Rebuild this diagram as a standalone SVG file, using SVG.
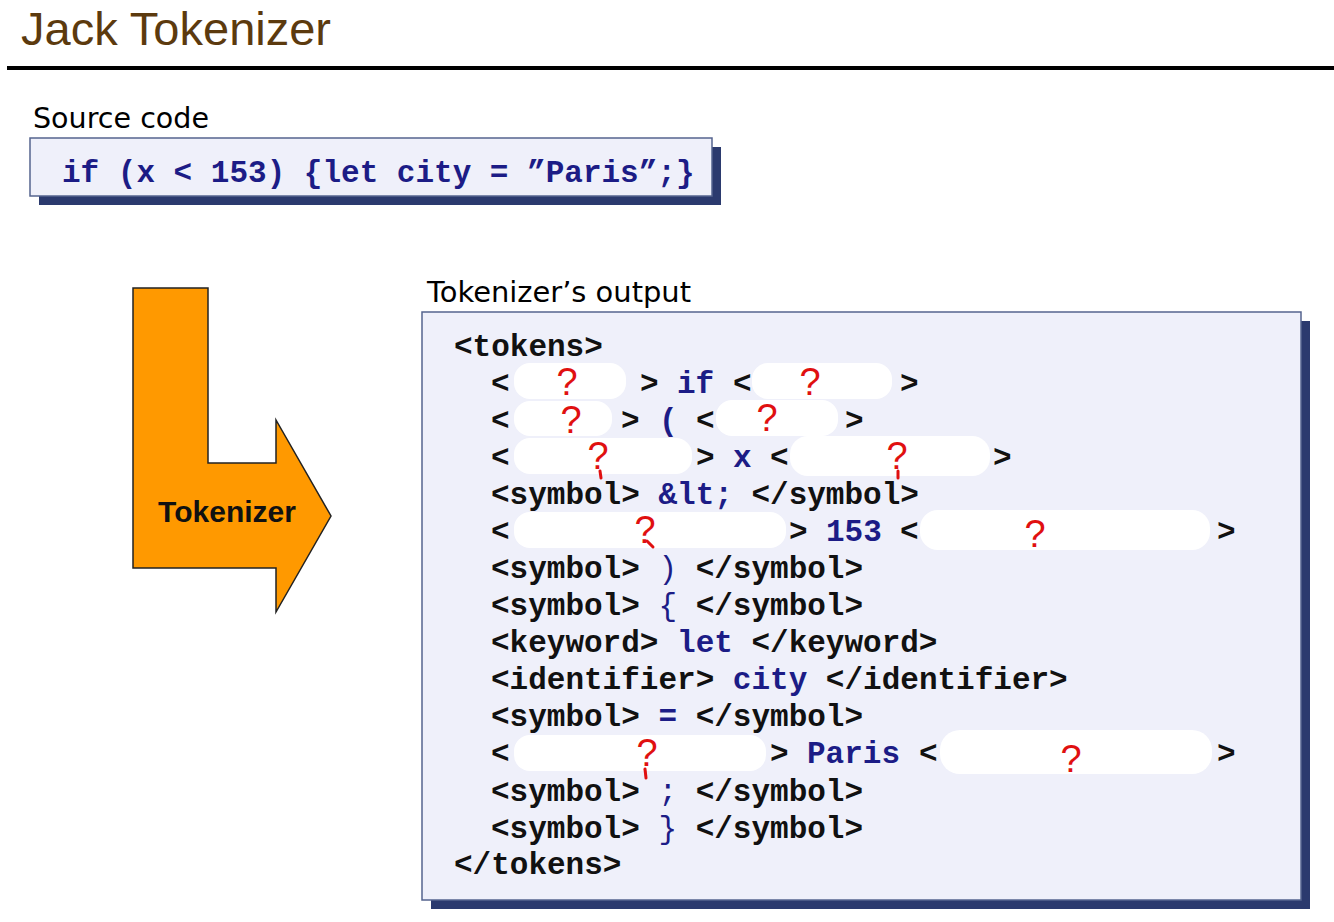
<svg xmlns="http://www.w3.org/2000/svg" width="1334" height="922" viewBox="0 0 1334 922">
<style>
.bg{fill:#ffffff}
.box{fill:#eff0fa;stroke:#55648f;stroke-width:1.5}
.shadow{fill:#2b3a6e}
.label{font-family:"DejaVu Sans","Liberation Sans",sans-serif;font-size:28px;fill:#000}
.code{font-family:"Liberation Mono","Courier New",monospace;font-weight:bold;font-size:31px;fill:#111}
.val{fill:#1c1c86}
.thin{font-weight:normal}
.blob{fill:#ffffff}
.q{font-family:"Liberation Sans","DejaVu Sans",sans-serif;font-size:38px;fill:#e01010}
.tick{stroke:#e01010;stroke-width:3;stroke-linecap:round}
</style>
<rect class="bg" x="0" y="0" width="1334" height="922"/>

<g id="title">
<text x="21" y="45" font-family="Liberation Sans, Arial, sans-serif" font-size="47" fill="#5c3a0e">Jack Tokenizer</text>
<rect x="7" y="66" width="1327" height="4" fill="#000"/>
</g>

<g id="source-label">
<text class="label" x="33" y="128" textLength="176" lengthAdjust="spacingAndGlyphs">Source code</text>
</g>

<g id="source-box">
<rect class="shadow" x="39" y="147" width="682" height="58"/>
<rect class="box" x="30" y="138" width="682" height="58"/>
<text class="code val" x="62" y="182" xml:space="preserve">if (x &lt; 153) {let city = ”Paris”;}</text>
</g>

<g id="tokenizer-arrow">
<path d="M133,288 L208,288 L208,463 L276,463 L276,420 L331,516 L276,612 L276,568 L133,568 Z" fill="#ff9900" stroke="#222" stroke-width="1.5" stroke-linejoin="miter"/>
<text x="227" y="522" text-anchor="middle" font-family="Liberation Sans, Arial, sans-serif" font-weight="bold" font-size="30" fill="#111">Tokenizer</text>
</g>

<g id="output-label">
<text class="label" x="427" y="302" textLength="264" lengthAdjust="spacingAndGlyphs">Tokenizer’s output</text>
</g>

<g id="output-box">
<rect class="shadow" x="431" y="321" width="879" height="588"/>
<rect class="box" x="422" y="312" width="879" height="588"/>

<!-- blobs covering hidden tags -->
<rect class="blob" x="514" y="363" width="112" height="36" rx="16"/>
<rect class="blob" x="752" y="363" width="140" height="36" rx="16"/>
<rect class="blob" x="514" y="401" width="98" height="35" rx="16"/>
<rect class="blob" x="716" y="400" width="122" height="36" rx="16"/>
<rect class="blob" x="514" y="438" width="178" height="36" rx="16"/>
<rect class="blob" x="790" y="436" width="200" height="40" rx="18"/>
<rect class="blob" x="514" y="512" width="272" height="36" rx="16"/>
<rect class="blob" x="920" y="510" width="290" height="40" rx="18"/>
<rect class="blob" x="514" y="735" width="252" height="36" rx="16"/>
<rect class="blob" x="940" y="730" width="272" height="44" rx="20"/>

<g class="code">
<text x="454" y="356">&lt;tokens&gt;</text>

<text x="491" y="393">&lt;</text>
<text x="640" y="393">&gt;</text>
<text class="val" x="677" y="393">if</text>
<text x="733" y="393">&lt;</text>
<text x="900" y="393">&gt;</text>

<text x="491" y="430">&lt;</text>
<text x="621" y="430">&gt;</text>
<text class="val" x="659" y="430">(</text>
<text x="696" y="430">&lt;</text>
<text x="845" y="430">&gt;</text>

<text x="491" y="467">&lt;</text>
<text x="696" y="467">&gt;</text>
<text class="val" x="733" y="467">x</text>
<text x="770" y="467">&lt;</text>
<text x="993" y="467">&gt;</text>

<text x="491" y="504" xml:space="preserve">&lt;symbol&gt; <tspan class="val">&amp;lt;</tspan> &lt;/symbol&gt;</text>

<text x="491" y="541">&lt;</text>
<text x="789" y="541">&gt;</text>
<text class="val" x="826" y="541">153</text>
<text x="900" y="541">&lt;</text>
<text x="1217" y="541">&gt;</text>

<text x="491" y="578" xml:space="preserve">&lt;symbol&gt; <tspan class="val thin">)</tspan> &lt;/symbol&gt;</text>
<text x="491" y="615" xml:space="preserve">&lt;symbol&gt; <tspan class="val thin">{</tspan> &lt;/symbol&gt;</text>
<text x="491" y="652" xml:space="preserve">&lt;keyword&gt; <tspan class="val">let</tspan> &lt;/keyword&gt;</text>
<text x="491" y="689" xml:space="preserve">&lt;identifier&gt; <tspan class="val">city</tspan> &lt;/identifier&gt;</text>
<text x="491" y="726" xml:space="preserve">&lt;symbol&gt; <tspan class="val">=</tspan> &lt;/symbol&gt;</text>

<text x="491" y="763">&lt;</text>
<text x="770" y="763">&gt;</text>
<text class="val" x="807" y="763">Paris</text>
<text x="919" y="763">&lt;</text>
<text x="1217" y="763">&gt;</text>

<text x="491" y="801" xml:space="preserve">&lt;symbol&gt; <tspan class="val thin">;</tspan> &lt;/symbol&gt;</text>
<text x="491" y="838" xml:space="preserve">&lt;symbol&gt; <tspan class="val thin">}</tspan> &lt;/symbol&gt;</text>
<text x="454" y="874">&lt;/tokens&gt;</text>
</g>

<!-- red question marks -->
<text class="q" x="567" y="395" text-anchor="middle" font-size="31">?</text>
<text class="q" x="810" y="395" text-anchor="middle" font-size="32">?</text>
<text class="q" x="571" y="433" text-anchor="middle" font-size="24">?</text>
<text class="q" x="767" y="431" text-anchor="middle" font-size="30">?</text>
<text class="q" x="598" y="469" text-anchor="middle" font-size="33">?</text>
<line class="tick" x1="600" y1="471" x2="601" y2="478"/>
<text class="q" x="897" y="469" text-anchor="middle" font-size="33">?</text>
<line class="tick" x1="898" y1="471" x2="898" y2="478"/>
<text class="q" x="645" y="543" text-anchor="middle" font-size="33">?</text>
<line class="tick" x1="647" y1="541" x2="653" y2="547"/>
<text class="q" x="1035" y="547" text-anchor="middle" font-size="36">?</text>
<text class="q" x="647" y="766" text-anchor="middle" font-size="33">?</text>
<line class="tick" x1="645" y1="769" x2="646" y2="778"/>
<text class="q" x="1071" y="772" text-anchor="middle" font-size="38">?</text>
</g>
</svg>
